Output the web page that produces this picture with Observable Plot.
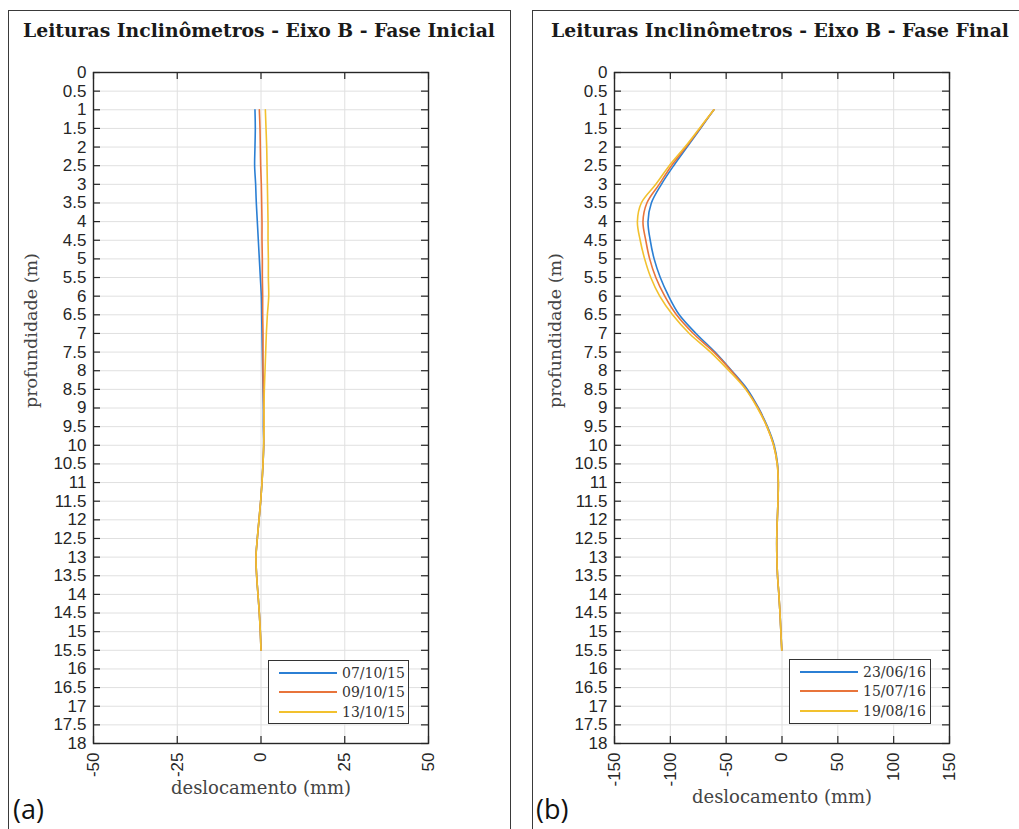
<!DOCTYPE html>
<html>
<head>
<meta charset="utf-8">
<script src="https://cdn.jsdelivr.net/npm/d3@7"></script>
<script src="https://cdn.jsdelivr.net/npm/@observablehq/plot@0.6"></script>
<style>
  body { margin: 0; background: #fff; }
  #page { position: relative; width: 1019px; height: 829px; overflow: hidden; background: #fff; }
  .box { position: absolute; border: 1.5px solid #3a3a3a; box-sizing: border-box; }
  .chart { position: absolute; top: 0; }
  .title { position: absolute; top: 19px; transform: translateX(-50%); white-space: nowrap;
           font-family: "DejaVu Serif", serif; font-weight: bold; font-size: 18.8px; color: #1a1a1a; }
  .tag { position: absolute; font-family: "Open Sans", "Liberation Sans", sans-serif; font-size: 27px; color: #111; line-height: 1; }
  .legend { position: absolute; background: #fff; border: 1.2px solid #333; box-sizing: border-box; padding-top: 2px; }
  .legend .row { display: flex; align-items: center; height: 19.5px; }
  .legend .swatch { width: 58px; margin-left: 10px; margin-right: 5px; }
  .legend .lbl { font-family: "DejaVu Serif", serif; font-size: 14px; color: #333; }
</style>
</head>
<body>
<div id="page">
  <div class="box" style="left:8px; top:10px; width:503px; height:840px;"></div>
  <div class="box" style="left:532px; top:10px; width:500px; height:840px;"></div>
  <div id="plotA" class="chart" style="left:0px;"></div>
  <div id="plotB" class="chart" style="left:520px;"></div>
  <div class="title" style="left:259px;">Leituras Inclinômetros - Eixo B - Fase Inicial</div>
  <div class="title" style="left:780px;">Leituras Inclinômetros - Eixo B - Fase Final</div>
  <div id="legendA" class="legend" style="left:268px; top:660px; width:141px; height:64px;"></div>
  <div id="legendB" class="legend" style="left:789px; top:659px; width:142px; height:65px;"></div>
  <div class="tag" style="left:13px; top:795px;">(a)</div>
  <div class="tag" style="left:536px; top:795px;">(b)</div>
</div>
<script>
// Depths of the inclinometer readings (m)
const depths = [1, 1.5, 2, 2.5, 3, 3.5, 4, 4.5, 5, 5.5, 6, 6.5, 7, 7.5, 8, 8.5, 9, 9.5, 10, 10.5,
                11, 11.5, 12, 12.5, 13, 13.5, 14, 14.5, 15, 15.5];
const yTicks = d3.range(0, 18.01, 0.5);

// Initial phase (mm)
const seriesA = ["07/10/15", "09/10/15", "13/10/15"];
const read071015 = [-1.8, -1.7, -1.8, -1.9, -1.6, -1.4, -1.1, -0.8, -0.5, -0.2, 0.1, 0.2, 0.3, 0.4, 0.5,
                    0.6, 0.7, 0.7, 0.8, 0.6, 0.3, -0.1, -0.6, -1.1, -1.5, -1.3, -0.9, -0.5, -0.2, 0.0];
const read091015 = [-0.5, -0.3, -0.2, -0.1, 0.1, 0.2, 0.3, 0.3, 0.4, 0.4, 0.5, 0.5, 0.6, 0.6, 0.6,
                    0.7, 0.8, 0.8, 0.8, 0.6, 0.3, -0.1, -0.6, -1.1, -1.5, -1.3, -0.9, -0.5, -0.2, 0.0];
const read131015 = [1.3, 1.5, 1.7, 1.8, 1.9, 2.0, 2.1, 2.1, 2.2, 2.2, 2.3, 1.9, 1.6, 1.4, 1.2,
                    1.0, 0.9, 0.9, 0.8, 0.6, 0.3, -0.1, -0.6, -1.1, -1.5, -1.3, -0.9, -0.5, -0.2, 0.0];
const xTicksA = [-50, -25, 0, 25, 50];

// Final phase (mm)
const seriesB = ["23/06/16", "15/07/16", "19/08/16"];
const read230616 = [-61, -73, -85, -97, -108, -117, -120, -118, -114.5, -109, -101.5, -92, -77, -60, -45,
                    -31, -21, -13, -7, -4, -3.3, -3.6, -4.2, -4.7, -4.6, -4.0, -2.8, -1.8, -1.0, -0.2];
const read150716 = [-61, -73.5, -86, -99, -110, -121, -124.5, -122, -118.5, -113, -105, -94.5, -79.5, -61, -45.5,
                    -32, -21.5, -13.5, -7.5, -4.3, -3.3, -3.6, -4.2, -4.7, -4.6, -4.0, -2.8, -1.8, -1.0, -0.2];
const read190816 = [-61, -74, -87, -101, -113, -126, -129.5, -127, -123, -117.5, -109.5, -98, -83, -64, -47.5,
                    -32.5, -22, -13.5, -7.5, -4.3, -3.3, -3.6, -4.2, -4.7, -4.6, -4.0, -2.8, -1.8, -1.0, -0.2];
const xTicksB = [-150, -100, -50, 0, 50, 100, 150];

const colors = ["#2b7fd4", "#e8743b", "#f2c12e"];
const serif = "DejaVu Serif, serif";
const H = 829, marginTop = 72, marginBottom = 86, tick = 7;

function profile({series, values, xTicks, width, marginLeft, marginRight, ylabelDx, xlabelDy}) {
  const rows = [];
  series.forEach((name, i) => values[i].forEach((v, j) => rows.push({serie: name, depth: depths[j], disp: v})));
  const innerW = width - marginLeft - marginRight;
  const innerH = H - marginTop - marginBottom;
  const ink = "#262626";
  return Plot.plot({
    width, height: H, marginLeft, marginRight, marginTop, marginBottom,
    style: {fontFamily: "Liberation Sans, Arial, sans-serif", fontSize: "17px", color: ink, background: "transparent"},
    x: {domain: [xTicks[0], xTicks[xTicks.length - 1]]},
    y: {domain: [0, 18], reverse: true},
    color: {domain: series, range: colors},
    marks: [
      Plot.gridX(xTicks, {stroke: "#e0e0e0", strokeOpacity: 1}),
      Plot.gridY(yTicks, {stroke: "#e0e0e0", strokeOpacity: 1}),
      Plot.line(rows, {x: "disp", y: "depth", z: "serie", stroke: "serie", strokeWidth: 1.6, curve: "catmull-rom"}),
      Plot.tickY(yTicks, {y: d => d, insetRight: innerW - tick, stroke: ink, strokeWidth: 1.2}),
      Plot.tickY(yTicks, {y: d => d, insetLeft: innerW - tick, stroke: ink, strokeWidth: 1.2}),
      Plot.tickX(xTicks, {x: d => d, insetBottom: innerH - tick, stroke: ink, strokeWidth: 1.2}),
      Plot.tickX(xTicks, {x: d => d, insetTop: innerH - tick, stroke: ink, strokeWidth: 1.2}),
      Plot.frame({stroke: ink, strokeWidth: 1.4}),
      Plot.axisY(yTicks, {tickSize: 0, tickPadding: 7, tickFormat: d => String(d), label: null}),
      Plot.axisX(xTicks, {tickSize: 0, tickPadding: 9, tickRotate: -90, tickFormat: d => String(d), label: null}),
      Plot.text(["deslocamento (mm)"], {text: d => d, frameAnchor: "bottom", dy: xlabelDy,
        fontFamily: serif, fontSize: 18, fill: "#444"}),
      Plot.text(["profundidade (m)"], {text: d => d, frameAnchor: "left", rotate: -90, dx: ylabelDx,
        fontFamily: serif, fontSize: 17.5, fill: "#444"})
    ]
  });
}

document.getElementById("plotA").append(profile({
  series: seriesA, values: [read071015, read091015, read131015], xTicks: xTicksA,
  width: 520, marginLeft: 93, marginRight: 92, ylabelDx: -62, xlabelDy: 50
}));
document.getElementById("plotB").append(profile({
  series: seriesB, values: [read230616, read150716, read190816], xTicks: xTicksB,
  width: 499, marginLeft: 94, marginRight: 70, ylabelDx: -59, xlabelDy: 59
}));

// Legends drawn inside the axes, one row per reading date
function legend(id, series) {
  const el = document.getElementById(id);
  series.forEach((name, i) => {
    const row = document.createElement("div");
    row.className = "row";
    const sw = document.createElement("span");
    sw.className = "swatch";
    sw.style.borderTop = `2px solid ${colors[i]}`;
    const lbl = document.createElement("span");
    lbl.className = "lbl";
    lbl.textContent = name;
    row.append(sw, lbl);
    el.append(row);
  });
}
legend("legendA", seriesA);
legend("legendB", seriesB);
</script>
</body>
</html>
